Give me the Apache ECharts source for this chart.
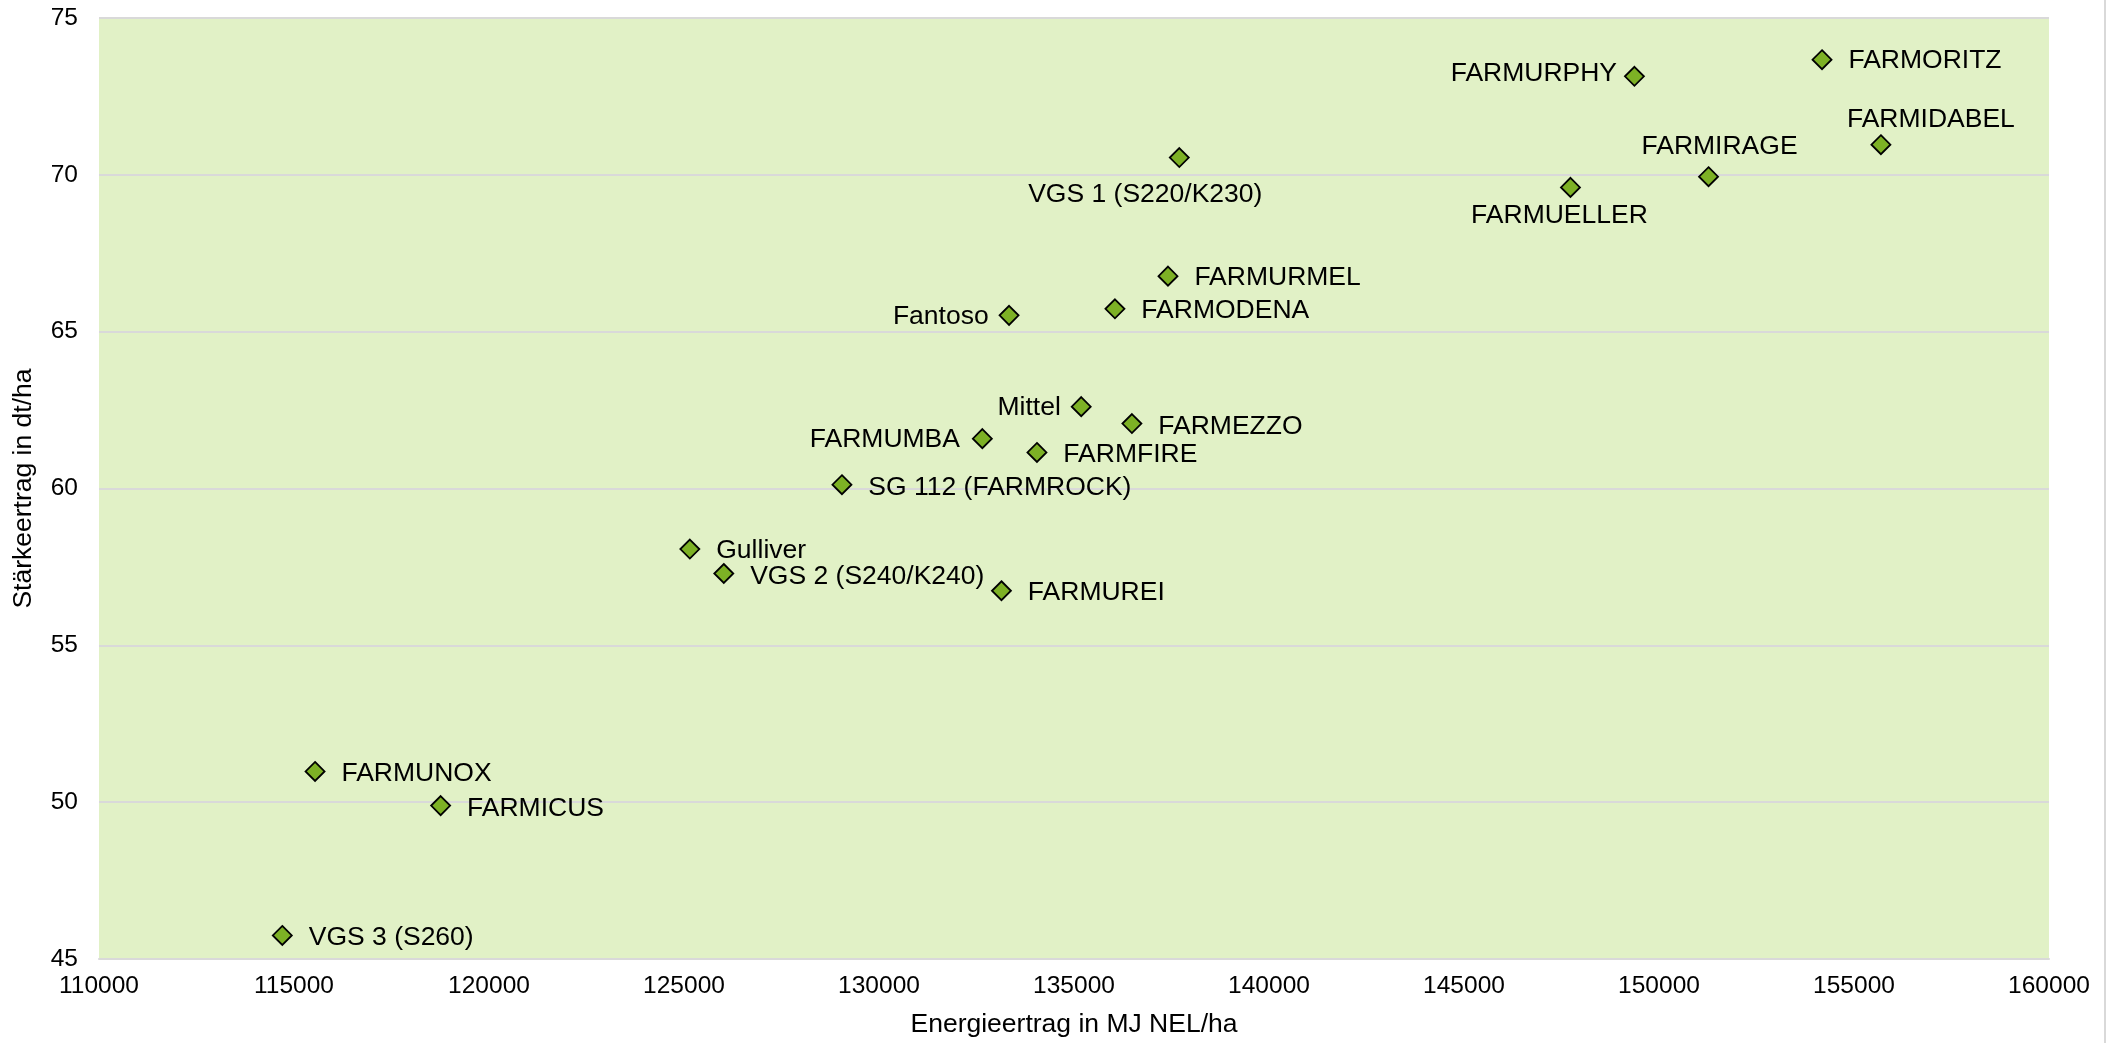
<!DOCTYPE html>
<html>
<head>
<meta charset="utf-8">
<script src="https://cdn.jsdelivr.net/npm/echarts@6/dist/echarts.min.js"></script>
<style>
html,body{margin:0;padding:0;background:#fff;}
#chart{width:2116px;height:1043px;}
</style>
</head>
<body>
<div id="chart"></div>
<script>
// ---- data ----
const sorten = ['FARMORITZ','FARMURPHY','FARMIDABEL','FARMIRAGE','FARMUELLER','VGS 1 (S220/K230)','FARMURMEL','FARMODENA','Fantoso','Mittel','FARMEZZO','FARMUMBA','FARMFIRE','SG 112 (FARMROCK)','Gulliver','VGS 2 (S240/K240)','FARMUREI','FARMUNOX','FARMICUS','VGS 3 (S260)'];
const energieertrag = [154180,149370,155690,151270,147730,137700,137410,136050,133335,135185,136485,132650,134050,129050,125150,126020,133140,115540,118760,114700];
const staerkeertrag = [73.67,73.14,70.96,69.94,69.60,70.55,66.77,65.73,65.52,62.61,62.07,61.59,61.15,60.12,58.07,57.29,56.74,50.98,49.89,45.75];
const xTicks = [110000,115000,120000,125000,130000,135000,140000,145000,150000,155000,160000];
const yTicks = [45,50,55,60,65,70,75];
const xTitle = 'Energieertrag in MJ NEL/ha';
const yTitle = 'Stärkeertrag in dt/ha';

// ---- label placement (style): position, dx, dy, distance ----
const labelPlacement = [
  ['right',0,1,16],['left',0,-3,7],['inside',50,-25],['inside',11,-30],['inside',-11,28],
  ['inside',-34,37],['right',0,2,16],['right',0,2,16],['left',0,1,10],['left',0,1,10],
  ['right',0,3,16],['left',0,1,12],['right',0,2,16],['right',0,3,16],['right',0,2,16],
  ['right',0,3,16],['right',0,2,16],['right',0,2,16],['right',0,3,16],['right',0,2,16]
];

const FONT = '"Liberation Sans", Arial, sans-serif';
const points = sorten.map((n,i)=>{
  const p = labelPlacement[i];
  const lab = {position:p[0], offset:[p[1],p[2]]};
  if (p[3] !== undefined) lab.distance = p[3];
  return {name:n, value:[energieertrag[i], staerkeertrag[i]], label:lab};
});

const chart = echarts.init(document.getElementById('chart'), null, {renderer:'canvas'});
chart.setOption({
  animation:false,
  backgroundColor:'#ffffff',
  textStyle:{fontFamily:FONT},
  grid:{left:99, top:18, right:67, bottom:83, show:true, backgroundColor:'#E1F1C6', borderWidth:0},
  xAxis:{
    type:'value', min:xTicks[0], max:xTicks[xTicks.length-1], interval:xTicks[1]-xTicks[0],
    name:xTitle, nameLocation:'middle', nameGap:52,
    nameTextStyle:{fontSize:26.5, color:'#000', fontFamily:FONT},
    axisLine:{show:true, lineStyle:{color:'#D9D9D9', width:2}},
    axisTick:{show:false},
    splitLine:{show:false},
    axisLabel:{fontSize:24.5, color:'#000', margin:15, fontFamily:FONT, formatter:v=>String(v)}
  },
  yAxis:{
    type:'value', min:yTicks[0], max:yTicks[yTicks.length-1], interval:yTicks[1]-yTicks[0],
    name:yTitle, nameLocation:'middle', nameGap:62,
    nameTextStyle:{fontSize:26.5, color:'#000', fontFamily:FONT},
    axisLine:{show:false},
    axisTick:{show:false},
    splitLine:{show:true, lineStyle:{color:'#D9D9D9', width:2}},
    axisLabel:{fontSize:24.5, color:'#000', margin:21, fontFamily:FONT, formatter:v=>String(v)}
  },
  series:[{
    type:'scatter',
    symbol:'diamond',
    symbolSize:19,
    itemStyle:{color:'#7DB125', borderColor:'#000', borderWidth:1.8, opacity:1},
    label:{show:true, formatter:'{b}', fontSize:26.5, color:'#000', fontFamily:FONT, textBorderWidth:0},
    emphasis:{disabled:true},
    data:points,
    z:5
  }],
  graphic:[{
    type:'line', shape:{x1:2105, y1:0, x2:2105, y2:1043},
    style:{stroke:'#D9D9D9', lineWidth:2}, silent:true
  }]
});
</script>
</body>
</html>
